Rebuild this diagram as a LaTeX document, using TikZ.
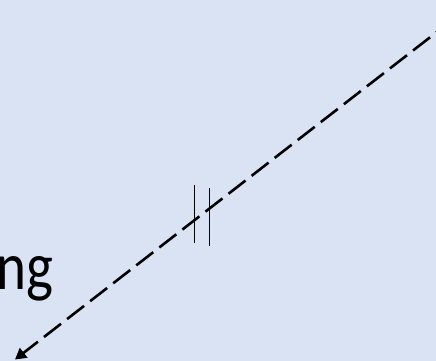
\documentclass[tikz,border=0pt]{standalone}
\usepackage{fontspec}
\setmainfont{Carlito}
\usetikzlibrary{arrows.meta}
\definecolor{paleblue}{HTML}{DAE3F3}
\begin{document}
\begin{tikzpicture}[x=1pt, y=-1pt, line width=2.6pt]
  \def\ww{436}
  \def\hh{361}
  \coordinate (NW) at (0,0);
  \coordinate (SE) at (\ww,\hh);
  \coordinate (S) at (453.1,19.4);
  \coordinate (T) at (15,359.5);
  \coordinate (P) at (194.3,185);
  \coordinate (P') at (194.3,243);
  \coordinate (Q) at (209.5,188);
  \coordinate (Q') at (209.5,245.5);
  \useasboundingbox (NW) rectangle (SE);
  \fill[paleblue] (NW) rectangle (SE);
  \clip (NW) rectangle (SE);
  % 잘린 글자
  \node[anchor=base west, inner sep=0pt, xscale=0.84, font=\fontsize{68}{70}\selectfont] (word) at (-5,289) {ng};
  % 점선 화살표
  \draw[dash pattern=on 21.5pt off 7.7pt, -{Triangle[length=11pt,width=12pt]}] (S) -- (T);
  % 끊김 표시
  \draw[line width=1.1pt] (P) -- (P');
  \draw[line width=1.1pt] (Q) -- (Q');
\end{tikzpicture}
\end{document}
